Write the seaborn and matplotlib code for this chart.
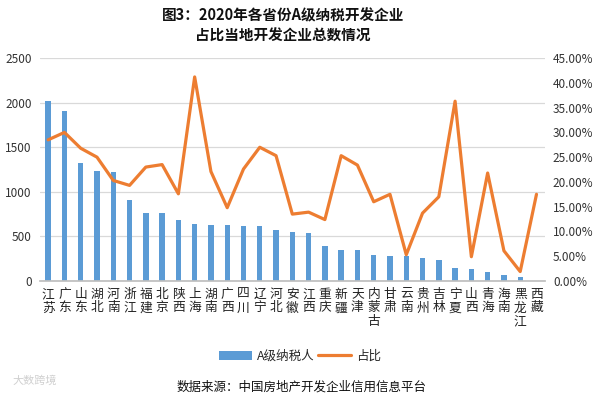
import numpy as np
import pandas as pd
import matplotlib
matplotlib.use("Agg")
import matplotlib.pyplot as plt
import seaborn as sns
from matplotlib.patches import Patch
from matplotlib.lines import Line2D

provinces = ["江苏", "广东", "山东", "湖北", "河南", "浙江", "福建", "北京", "陕西", "上海",
             "湖南", "广西", "四川", "辽宁", "河北", "安徽", "江西", "重庆", "新疆", "天津",
             "内蒙古", "甘肃", "云南", "贵州", "吉林", "宁夏", "山西", "青海", "海南", "黑龙江", "西藏"]
a_level = [2020, 1910, 1320, 1235, 1228, 910, 765, 765, 682, 636,
           628, 628, 621, 613, 573, 550, 538, 392, 350, 350,
           295, 282, 282, 255, 233, 150, 136, 98, 68, 42, 5]
ratio = [28.5, 30.0, 26.8, 25.0, 20.3, 19.3, 23.0, 23.5, 17.6, 41.2,
         22.1, 14.8, 22.6, 27.0, 25.3, 13.5, 13.9, 12.4, 25.3, 23.4,
         16.0, 17.5, 5.3, 13.7, 17.0, 36.3, 4.9, 21.8, 6.1, 1.9, 17.5]
left_ticks = [0, 500, 1000, 1500, 2000, 2500]
right_ticks = [0, 5, 10, 15, 20, 25, 30, 35, 40, 45]

sns.set_theme(style="white")
plt.rcParams['font.family'] = ['Noto Sans CJK SC', 'DejaVu Sans']

blue = "#5B9BD5"
orange = "#ED7D31"

fig = plt.figure(figsize=(6.0, 3.98), dpi=100)
ax = fig.add_axes([0.0667, 0.294, 0.841, 0.560])

df = pd.DataFrame({"省份": provinces, "A级纳税人": a_level, "占比": ratio})
sns.barplot(data=df, x="省份", y="A级纳税人", color=blue, width=0.33, ax=ax,
            saturation=1, edgecolor="none")
ax.set_ylim(0, 2500)
ax.set_xlim(-0.5, len(provinces) - 0.5)
ax.set_yticks(left_ticks)
ax.set_yticklabels([str(t) for t in left_ticks], fontsize=8.5, color="#333333")
ax.yaxis.grid(True, color="#D9D9D9", linewidth=0.9)
ax.set_axisbelow(True)
ax.set_xlabel("")
ax.set_ylabel("")
ax.set_xticks(range(len(provinces)))
ax.set_xticklabels(["\n".join(list(p)) for p in provinces], fontsize=9.2,
                   color="#222222", linespacing=1.05, va="top")
ax.tick_params(axis="x", length=0, pad=5)
ax.tick_params(axis="y", length=0, pad=6)
for s in ["top", "right", "left"]:
    ax.spines[s].set_visible(False)
ax.spines["bottom"].set_color("#BFBFBF")

ax2 = ax.twinx()
sns.lineplot(x=np.arange(len(provinces)), y=ratio, color=orange, linewidth=2.3, ax=ax2)
ax2.set_ylim(0, 45)
ax2.set_yticks(right_ticks)
ax2.set_yticklabels([f"{t:.2f}%" for t in right_ticks], fontsize=8.5, color="#333333")
ax2.tick_params(axis="y", length=0, pad=6)
for s in ["top", "right", "left", "bottom"]:
    ax2.spines[s].set_visible(False)
ax2.set_ylabel("")

fig.text(0.472, 0.962, "图3：2020年各省份A级纳税开发企业", ha="center", va="center",
         fontsize=10.5, fontweight="bold", color="#111111")
fig.text(0.472, 0.910, "占比当地开发企业总数情况", ha="center", va="center",
         fontsize=10.5, fontweight="bold", color="#111111")

handles = [Patch(facecolor=blue, edgecolor="none", label="A级纳税人"),
           Line2D([0], [0], color=orange, linewidth=2.3, label="占比")]
fig.legend(handles=handles, loc="center", bbox_to_anchor=(0.5, 0.105), ncol=2,
           frameon=False, fontsize=9, handlelength=2.6, columnspacing=0.3,
           handletextpad=0.4)

fig.text(0.503, 0.028, "数据来源：中国房地产开发企业信用信息平台", ha="center", va="center",
         fontsize=9, color="#111111")
fig.text(0.02, 0.045, "大数跨境", ha="left", va="center", fontsize=8, color="#D0D0D0")

fig.savefig("out.png", dpi=100)
